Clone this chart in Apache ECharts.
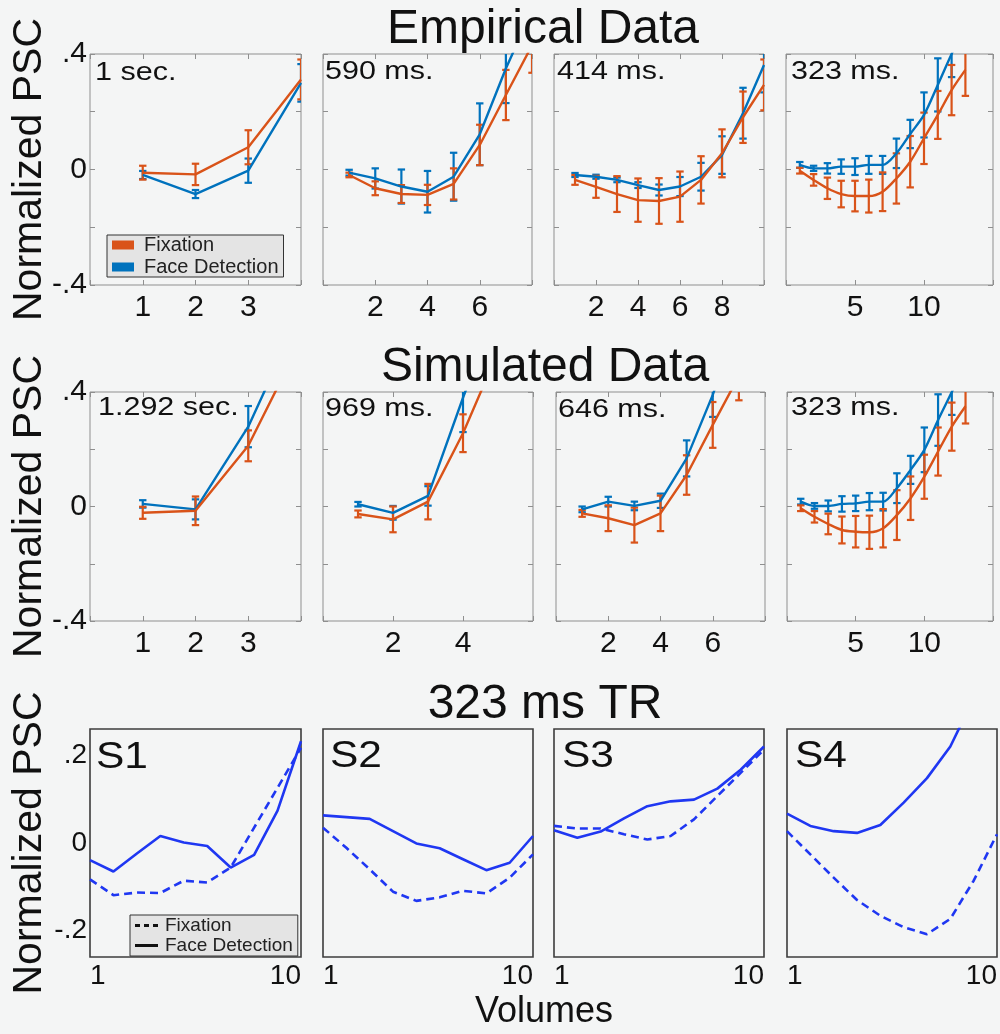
<!DOCTYPE html>
<html><head><meta charset="utf-8">
<script src="https://cdn.jsdelivr.net/npm/echarts@6/dist/echarts.min.js"></script>
<style>html,body{margin:0;padding:0;background:#f4f5f5}#c{width:1000px;height:1034px}</style>
</head><body><div id="c"></div><script>
// ---------- data ----------
const empLabels = ['1 sec.', '590 ms.', '414 ms.', '323 ms.'];
const simLabels = ['1.292 sec.', '969 ms.', '646 ms.', '323 ms.'];
const subjLabels = ['S1', 'S2', 'S3', 'S4'];
const empXMax = [4, 8, 10, 15];
const empXInt = [1, 2, 2, 5];
const simXMax = [4, 6, 8, 15];
const simXInt = [1, 2, 2, 5];
const yTickVals = [-0.4, 0, 0.4];
const yTickText = ['-.4', '0', '.4'];
const y3TickVals = [-0.2, 0, 0.2];
const y3TickText = ['-.2', '0', '.2'];
const x3TickVals = [1, 10];
const x3TickText = ['1', '10'];

// Empirical
const emp1Fix = [-0.011, -0.017, 0.077, 0.312];
const emp1FixErr = [0.024, 0.037, 0.059, 0.069];
const emp1Face = [-0.019, -0.085, -0.004, 0.300];
const emp1FaceErr = [0.014, 0.014, 0.042, 0.065];

const emp2Fix = [-0.019, -0.065, -0.085, -0.088, -0.050, 0.085, 0.258, 0.43];
const emp2FixErr = [0.008, 0.024, 0.031, 0.035, 0.054, 0.070, 0.087, 0.095];
const emp2Face = [-0.011, -0.031, -0.059, -0.077, -0.025, 0.122, 0.35, 0.55];
const emp2FaceErr = [0.010, 0.035, 0.059, 0.072, 0.083, 0.107, 0.12, 0.13];

const emp3Fix = [-0.036, -0.060, -0.085, -0.106, -0.109, -0.094, -0.036, 0.056, 0.181, 0.293];
const emp3FixErr = [0.017, 0.038, 0.062, 0.075, 0.079, 0.087, 0.082, 0.083, 0.089, 0.088];
const emp3Face = [-0.019, -0.025, -0.036, -0.054, -0.071, -0.059, -0.025, 0.050, 0.195, 0.362];
const emp3FaceErr = [0.007, 0.007, 0.008, 0.010, 0.019, 0.033, 0.048, 0.065, 0.088, 0.095];

const emp4Fix = [-0.004, -0.036, -0.065, -0.085, -0.092, -0.092, -0.077, -0.031, 0.027, 0.108, 0.189, 0.275, 0.345];
const emp4FixErr = [0.010, 0.020, 0.037, 0.046, 0.053, 0.057, 0.067, 0.087, 0.089, 0.089, 0.083, 0.087, 0.090];
const emp4Face = [0.016, 0.004, 0.004, 0.010, 0.010, 0.016, 0.016, 0.056, 0.123, 0.189, 0.293, 0.40, 0.50];
const emp4FaceErr = [0.010, 0.009, 0.018, 0.025, 0.029, 0.031, 0.031, 0.051, 0.049, 0.078, 0.092, 0.080, 0.090];

// Simulated
const sim1Fix = [-0.022, -0.015, 0.212, 0.58];
const sim1FixErr = [0.021, 0.050, 0.054, 0.060];
const sim1Face = [0.009, -0.010, 0.279, 0.68];
const sim1FaceErr = [0.013, 0.035, 0.072, 0.080];

const sim2Fix = [-0.026, -0.045, 0.017, 0.256, 0.54];
const sim2FixErr = [0.012, 0.045, 0.062, 0.066, 0.070];
const sim2Face = [0.008, -0.022, 0.037, 0.38, 0.70];
const sim2FaceErr = [0.008, 0.024, 0.034, 0.120, 0.100];

const sim3Fix = [-0.024, -0.041, -0.065, -0.024, 0.110, 0.285, 0.456];
const sim3FixErr = [0.012, 0.045, 0.061, 0.062, 0.069, 0.080, 0.085];
const sim3Face = [-0.010, 0.017, 0.002, 0.020, 0.168, 0.39, 0.65];
const sim3FaceErr = [0.010, 0.017, 0.015, 0.025, 0.063, 0.077, 0.090];

const sim4Fix = [-0.006, -0.036, -0.061, -0.082, -0.088, -0.090, -0.076, -0.030, 0.029, 0.104, 0.192, 0.279, 0.35];
const sim4FixErr = [0.010, 0.020, 0.036, 0.047, 0.055, 0.058, 0.067, 0.087, 0.076, 0.077, 0.084, 0.084, 0.060];
const sim4Face = [0.017, 0.002, 0.002, 0.009, 0.011, 0.017, 0.017, 0.064, 0.128, 0.198, 0.302, 0.40, 0.50];
const sim4FaceErr = [0.010, 0.010, 0.019, 0.027, 0.027, 0.030, 0.031, 0.052, 0.049, 0.078, 0.090, 0.080, 0.090];

// 323 ms TR, per subject (volumes 1..10)
const s1Fix = [-0.083, -0.119, -0.113, -0.114, -0.086, -0.090, -0.056, 0.035, 0.126, 0.217];
const s1Face = [-0.039, -0.065, -0.024, 0.016, 0.001, -0.007, -0.056, -0.027, 0.074, 0.232];
const s2Fix = [0.035, -0.011, -0.060, -0.111, -0.132, -0.124, -0.109, -0.115, -0.079, -0.026];
const s2Face = [0.063, 0.059, 0.055, 0.027, -0.001, -0.012, -0.037, -0.062, -0.045, 0.016];
const s3Fix = [0.039, 0.033, 0.033, 0.020, 0.008, 0.016, 0.054, 0.107, 0.160, 0.213];
const s3Face = [0.029, 0.012, 0.026, 0.056, 0.084, 0.095, 0.099, 0.124, 0.167, 0.220];
const s4Fix = [0.027, -0.026, -0.079, -0.130, -0.166, -0.192, -0.208, -0.173, -0.086, 0.020];
const s4Face = [0.067, 0.039, 0.027, 0.023, 0.041, 0.092, 0.148, 0.220, 0.33, 0.45];

// ---------- layout / style ----------
const FONT = '"Liberation Sans", Arial, Helvetica, sans-serif';
const ORANGE = '#D95319', BLUE = '#0072BD', RBLUE = '#1f37f2', TXT = '#111';
const rowTop = [54, 392, 729];
const rowH = [231, 229, 228];
const colLeft = [[90, 323, 554, 786], [90, 323, 556, 787], [90, 323, 554, 787]];
const colW = [[211, 209, 210, 207], [211, 210, 209, 206], [211, 210, 210, 210]];
const labelPos = [
  [[95, 73], [325, 72.5], [557, 72.5], [791, 72.5]],
  [[98, 408.5], [325, 409], [558, 410], [791, 408]]
];
const subjPos = [[96, 758], [330, 757], [562, 757], [795, 757]];

const grids = [], xAxes = [], yAxes = [], series = [], graphics = [];

function near(v, arr) { for (let i = 0; i < arr.length; i++) if (Math.abs(v - arr[i]) < 1e-6) return i; return -1; }

function renderErr(params, api) {
  const x = api.value(0), y = api.value(1), e = api.value(2);
  const p1 = api.coord([x, y + e]), p2 = api.coord([x, y - e]);
  const hw = 3.7;
  const st = { stroke: api.visual('color'), lineWidth: 2.2 };
  return { type: 'group', children: [
    { type: 'line', shape: { x1: p1[0], y1: p1[1], x2: p2[0], y2: p2[1] }, style: st },
    { type: 'line', shape: { x1: p1[0] - hw, y1: p1[1], x2: p1[0] + hw, y2: p1[1] }, style: st },
    { type: 'line', shape: { x1: p2[0] - hw, y1: p2[1], x2: p2[0] + hw, y2: p2[1] }, style: st }
  ]};
}

const noLine = { show: false, onZero: false };
const yName = { name: 'Normalized PSC', nameLocation: 'middle', nameRotate: 90, nameGap: 40, nameMoveOverlap: false,
  nameTextStyle: { fontSize: 41, color: TXT, fontFamily: FONT } };

function addErrPanel(r, c, xmax, xint, fix, fixErr, face, faceErr, smooth) {
  const gi = grids.length;
  grids.push({ left: colLeft[r][c], top: rowTop[r], width: colW[r][c], height: rowH[r],
    show: true, borderColor: '#8f8f8f', borderWidth: 1, backgroundColor: 'transparent',
    containLabel: false, outerBoundsMode: 'none' });
  const tick = { show: true, inside: true, length: 5, lineStyle: { color: '#8f8f8f', width: 1 } };
  const xi = xAxes.length;
  xAxes.push({ type: 'value', gridIndex: gi, min: 0, max: xmax, interval: xint, position: 'bottom',
    axisLine: noLine, splitLine: { show: false }, axisTick: tick,
    axisLabel: { show: true, margin: 8, fontSize: 30, color: TXT, fontFamily: FONT,
      formatter: v => (v > 0 && v < xmax) ? String(v) : '' } });
  xAxes.push({ type: 'value', gridIndex: gi, min: 0, max: xmax, interval: xint, position: 'top',
    axisLine: noLine, splitLine: { show: false }, axisTick: tick, axisLabel: { show: false } });
  const yi = yAxes.length;
  const yl = { type: 'value', gridIndex: gi, min: -0.4, max: 0.4, interval: 0.2, position: 'left',
    axisLine: noLine, splitLine: { show: false }, axisTick: tick,
    axisLabel: { show: c === 0, margin: 3, fontSize: 30, color: TXT, fontFamily: FONT,
      formatter: v => { const k = near(v, yTickVals); return k >= 0 ? yTickText[k] : ''; } } };
  if (c === 0) Object.assign(yl, yName);
  yAxes.push(yl);
  yAxes.push({ type: 'value', gridIndex: gi, min: -0.4, max: 0.4, interval: 0.2, position: 'right',
    axisLine: noLine, splitLine: { show: false }, axisTick: tick, axisLabel: { show: false } });
  const mk = (arr) => arr.map((v, i) => [i + 1, v]);
  const mkE = (arr, err) => arr.map((v, i) => [i + 1, v, err[i]]);
  [[face, faceErr, BLUE, 'Face Detection'], [fix, fixErr, ORANGE, 'Fixation']].forEach(([vals, err, col, nm]) => {
    series.push({ type: 'line', name: nm, xAxisIndex: xi, yAxisIndex: yi, data: mk(vals), symbol: 'none',
      smooth: smooth, lineStyle: { color: col, width: 2.4 }, itemStyle: { color: col }, clip: true, silent: true });
    series.push({ type: 'custom', xAxisIndex: xi, yAxisIndex: yi, data: mkE(vals, err), renderItem: renderErr,
      encode: { x: 0, y: 1 }, itemStyle: { color: col }, clip: true, silent: true });
  });
}

function addSubjPanel(c, fix, face) {
  const r = 2;
  const gi = grids.length;
  grids.push({ left: colLeft[r][c], top: rowTop[r], width: colW[r][c], height: rowH[r],
    show: true, borderColor: '#3c3c3c', borderWidth: 1.6, backgroundColor: 'transparent',
    containLabel: false, outerBoundsMode: 'none' });
  const xi = xAxes.length;
  xAxes.push({ type: 'value', gridIndex: gi, min: 1, max: 10, interval: 1, position: 'bottom',
    axisLine: noLine, splitLine: { show: false }, axisTick: { show: false },
    axisLabel: { show: true, margin: 5, fontSize: 28, color: TXT, fontFamily: FONT,
      alignMinLabel: 'left', alignMaxLabel: 'right',
      formatter: v => { const k = near(v, x3TickVals); return k >= 0 ? x3TickText[k] : ''; } } });
  const yi = yAxes.length;
  const yl = { type: 'value', gridIndex: gi, min: -0.26, max: 0.26, interval: 0.02, position: 'left',
    axisLine: noLine, splitLine: { show: false }, axisTick: { show: false },
    axisLabel: { show: c === 0, margin: 3, fontSize: 28, color: TXT, fontFamily: FONT,
      formatter: v => { const k = near(v, y3TickVals); return k >= 0 ? y3TickText[k] : ''; } } };
  if (c === 0) Object.assign(yl, yName);
  yAxes.push(yl);
  const mk = (arr) => arr.map((v, i) => [i + 1, v]);
  series.push({ type: 'line', name: 'Fixation', xAxisIndex: xi, yAxisIndex: yi, data: mk(fix), symbol: 'none',
    lineStyle: { color: RBLUE, width: 2.6, type: [8, 5] }, itemStyle: { color: RBLUE }, clip: true, silent: true });
  series.push({ type: 'line', name: 'Face Detection', xAxisIndex: xi, yAxisIndex: yi, data: mk(face), symbol: 'none',
    lineStyle: { color: RBLUE, width: 2.6 }, itemStyle: { color: RBLUE }, clip: true, silent: true });
}

const empSets = [[emp1Fix, emp1FixErr, emp1Face, emp1FaceErr], [emp2Fix, emp2FixErr, emp2Face, emp2FaceErr],
  [emp3Fix, emp3FixErr, emp3Face, emp3FaceErr], [emp4Fix, emp4FixErr, emp4Face, emp4FaceErr]];
const simSets = [[sim1Fix, sim1FixErr, sim1Face, sim1FaceErr], [sim2Fix, sim2FixErr, sim2Face, sim2FaceErr],
  [sim3Fix, sim3FixErr, sim3Face, sim3FaceErr], [sim4Fix, sim4FixErr, sim4Face, sim4FaceErr]];
empSets.forEach((s, c) => addErrPanel(0, c, empXMax[c], empXInt[c], s[0], s[1], s[2], s[3], c === 3 ? 0.3 : false));
simSets.forEach((s, c) => addErrPanel(1, c, simXMax[c], simXInt[c], s[0], s[1], s[2], s[3], c === 3 ? 0.3 : false));
[[s1Fix, s1Face], [s2Fix, s2Face], [s3Fix, s3Face], [s4Fix, s4Face]].forEach((s, c) => addSubjPanel(c, s[0], s[1]));

// panel labels (horizontally stretched text, as in the figure)
function addLabel(text, x, y, size, sx) {
  graphics.push({ type: 'text', x: x, y: y, scaleX: sx, silent: true, z: 100,
    style: { text: text, font: size + 'px ' + FONT, fill: TXT, align: 'left', verticalAlign: 'middle',
      textAlign: 'left', textVerticalAlign: 'middle' } });
}
empLabels.forEach((t, c) => addLabel(t, labelPos[0][c][0], labelPos[0][c][1], 25, 1.22));
simLabels.forEach((t, c) => addLabel(t, labelPos[1][c][0], labelPos[1][c][1], 25, 1.22));
subjLabels.forEach((t, c) => addLabel(t, subjPos[c][0], subjPos[c][1], 36, 1.18));

const titleStyle = (fs) => ({ fontSize: fs, fontWeight: 'normal', color: TXT, fontFamily: FONT });
const DASH = 'path://M0,0h5v3h-5z M9,0h5v3h-5z M18,0h5v3h-5z';

const option = {
  animation: false,
  backgroundColor: '#f4f5f5',
  title: [
    { text: 'Empirical Data', left: 543, top: 6, textAlign: 'center', padding: 0, textStyle: titleStyle(48) },
    { text: 'Simulated Data', left: 545, top: 344, textAlign: 'center', padding: 0, textStyle: titleStyle(48) },
    { text: '323 ms TR', left: 545, top: 681, textAlign: 'center', padding: 0, textStyle: titleStyle(48) },
    { text: 'Volumes', left: 544, top: 994, textAlign: 'center', padding: 0, textStyle: titleStyle(36) }
  ],
  legend: [
    { left: 107, top: 235, orient: 'vertical', itemWidth: 22, itemHeight: 9, itemGap: 2, padding: [0, 5],
      backgroundColor: '#e4e4e4', borderColor: '#333', borderWidth: 1, borderRadius: 0, selectedMode: false,
      textStyle: { fontSize: 20, lineHeight: 19, color: '#222', fontFamily: FONT, padding: [0, 0, 0, 5] },
      data: [ { name: 'Fixation', icon: 'rect', itemStyle: { color: ORANGE, borderWidth: 0 } },
              { name: 'Face Detection', icon: 'rect', itemStyle: { color: BLUE, borderWidth: 0 } } ] },
    { left: 130, top: 915, orient: 'vertical', itemWidth: 23, itemHeight: 3, itemGap: 1, padding: [1, 5],
      backgroundColor: '#e4e4e4', borderColor: '#333', borderWidth: 1, borderRadius: 0, selectedMode: false,
      textStyle: { fontSize: 19, lineHeight: 18, color: '#222', fontFamily: FONT, padding: [0, 0, 0, 2] },
      data: [ { name: 'Fixation', icon: DASH, itemStyle: { color: '#111', borderWidth: 0 } },
              { name: 'Face Detection', icon: 'rect', itemStyle: { color: '#111', borderWidth: 0 } } ] }
  ],
  grid: grids, xAxis: xAxes, yAxis: yAxes, series: series, graphic: graphics
};
const chart = echarts.init(document.getElementById('c'), null, { renderer: 'canvas' });
chart.setOption(option);
</script></body></html>
